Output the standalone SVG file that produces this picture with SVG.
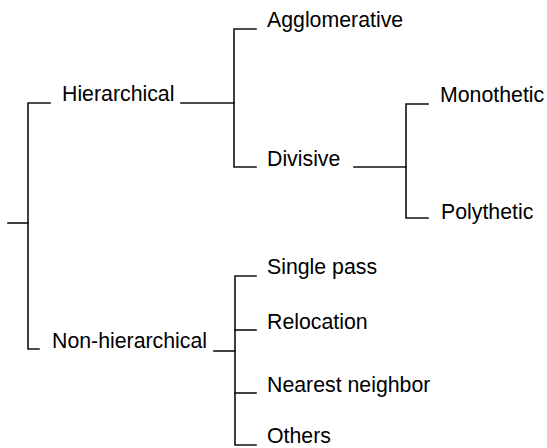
<svg xmlns="http://www.w3.org/2000/svg" width="547" height="448" viewBox="0 0 547 448">
  <style>
    .lbl { font-family: "Liberation Sans", Arial, Helvetica, sans-serif; font-size: 21.3px; fill: #000; }
    .link { fill: none; stroke: #111; stroke-width: 1.6; stroke-linecap: square; stroke-linejoin: miter; }
  </style>
  <rect width="547" height="448" fill="#ffffff"/>

  <!-- connectors: bracket trees -->
  <g id="connectors">
    <path class="link" d="M8,223 H28"/>
    <path class="link" d="M50,103 H28 V349 H39"/>
    <path class="link" d="M181,103 H234"/>
    <path class="link" d="M256,29 H234 V167 H256"/>
    <path class="link" d="M354,167 H406"/>
    <path class="link" d="M428,104 H406 V218 H428"/>
    <path class="link" d="M214,351 H235"/>
    <path class="link" d="M256,276 H235 V445 H256"/>
    <path class="link" d="M235,330 H256"/>
    <path class="link" d="M235,393 H256"/>
  </g>

  <!-- nodes -->
  <g id="hierarchical"><text class="lbl" x="62" y="101">Hierarchical</text></g>
  <g id="non-hierarchical"><text class="lbl" x="52" y="348">Non-hierarchical</text></g>
  <g id="agglomerative"><text class="lbl" x="267" y="27">Agglomerative</text></g>
  <g id="divisive"><text class="lbl" x="267" y="166">Divisive</text></g>
  <g id="monothetic"><text class="lbl" x="440" y="102">Monothetic</text></g>
  <g id="polythetic"><text class="lbl" x="441" y="219">Polythetic</text></g>
  <g id="single-pass"><text class="lbl" x="267" y="274">Single pass</text></g>
  <g id="relocation"><text class="lbl" x="267" y="329">Relocation</text></g>
  <g id="nearest-neighbor"><text class="lbl" x="267" y="392">Nearest neighbor</text></g>
  <g id="others"><text class="lbl" x="267" y="443">Others</text></g>
</svg>
